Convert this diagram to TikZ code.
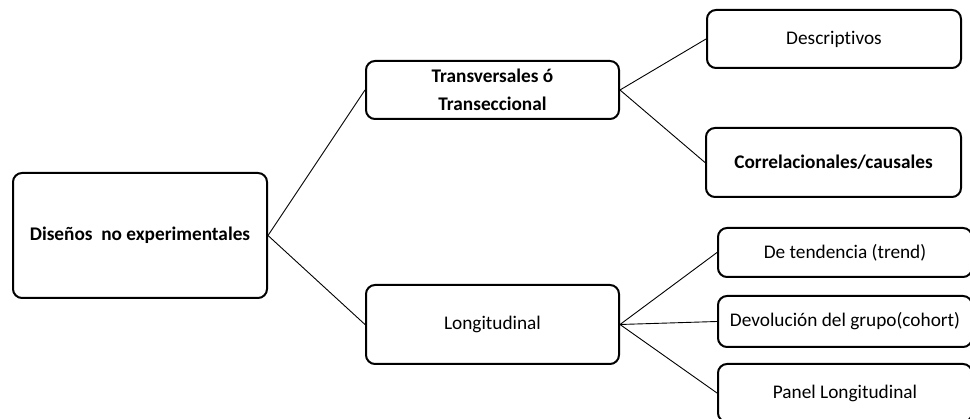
\documentclass[tikz,border=0pt]{standalone}
\usepackage{fontspec}
\setmainfont{Carlito}[Ligatures=NoCommon]
\begin{document}
\begin{tikzpicture}[x=1pt,y=-1pt,
  box/.style={draw, line width=2pt, rounded corners=9pt, inner sep=0pt, align=center, font=\fontsize{19.3}{28}\selectfont},
  bbox/.style={box, font=\fontsize{19.3}{28}\selectfont\bfseries},
  link/.style={line width=0.9pt}]
\useasboundingbox (0,0) rectangle (970,419);
\clip (0,0) rectangle (970,419);
\node[bbox, minimum width=254pt, minimum height=125pt] (root) at (140,235.5) {Diseños\ \ no experimentales};
\node[bbox, minimum width=253pt, minimum height=58pt] (trans) at (492.5,90) {Transversales ó\\Transeccional};
\node[box, minimum width=254pt, minimum height=58pt] (desc) at (834,39) {Descriptivos};
\node[bbox, minimum width=255pt, minimum height=69pt] (corr) at (833.5,162.5) {Correlacionales/causales};
\node[box, minimum width=253pt, minimum height=79pt] (long) at (492.5,324.5) {Longitudinal};
\node[box, minimum width=254pt, minimum height=49pt] (trend) at (845,252.5) {De tendencia (trend)};
\node[box, minimum width=254pt, minimum height=51pt] (cohort) at (845,321.5) {Devolución del grupo(cohort)};
\node[box, minimum width=254pt, minimum height=58pt] (panel) at (845,393) {Panel Longitudinal};
\draw[link] (root.east) -- (trans.west);
\draw[link] (root.east) -- (long.west);
\draw[link] (trans.east) -- (desc.west);
\draw[link] (trans.east) -- (corr.west);
\draw[link] (long.east) -- (trend.west);
\draw[link] (long.east) -- (cohort.west);
\draw[link] (long.east) -- (panel.west);
\end{tikzpicture}
\end{document}
